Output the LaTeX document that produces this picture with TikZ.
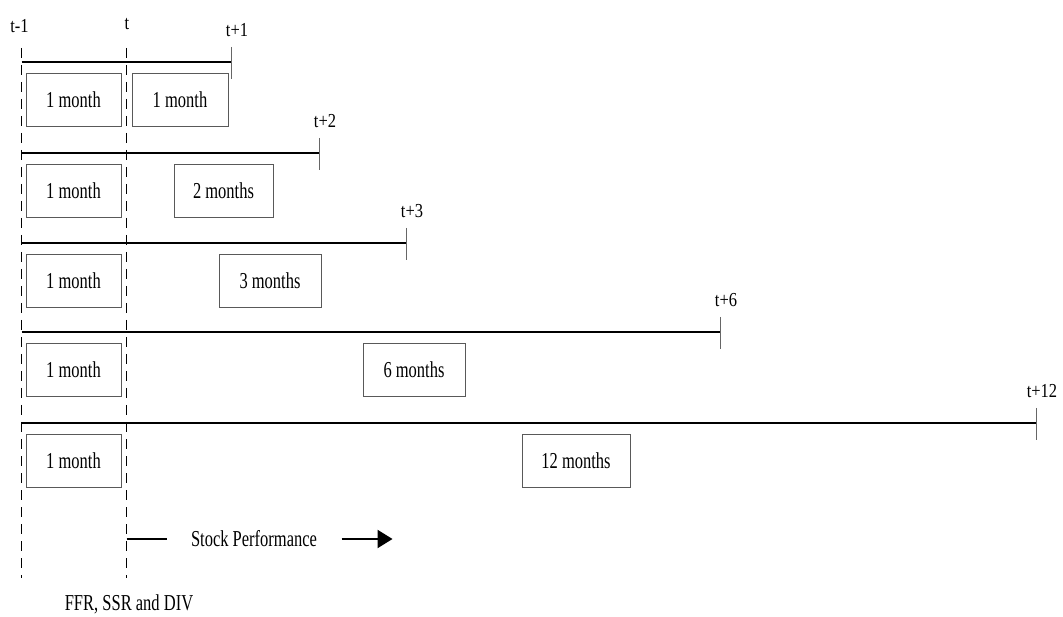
\documentclass[tikz,border=0pt]{standalone}
\usepackage{fontspec}
\setmainfont{Liberation Serif}
\usepackage{graphicx}
\usetikzlibrary{arrows.meta,positioning,calc}
\newcommand{\tall}[1]{\scalebox{1}[1.38]{#1}}
\newcommand{\semitall}[1]{\scalebox{1}[1.2]{#1}}
\tikzset{
  span/.style={line width=2pt},
  tick/.style={draw=black!60, line width=0.9pt},
  guide/.style={dash pattern=on 10pt off 7pt, line width=1.9pt},
  box/.style={draw=black!65, line width=0.9pt, minimum height=53pt, inner sep=0pt},
  lbl/.style={inner sep=0pt},
  arrow/.style={-{Triangle[length=15pt, width=18pt]}, line width=2pt},
}

\begin{document}
\begin{tikzpicture}[x=1pt, y=-1pt, every node/.style={font=\fontsize{16.5}{18}\selectfont}]
      \useasboundingbox (0,0) rectangle (1063,617);
      \coordinate (prevtop) at (21.5,48);
      \coordinate (prevbot) at (21.5,578);
      \coordinate (nowtop) at (126.5,48);
      \coordinate (nowbot) at (126.5,578);
      \draw[guide] (prevtop) -- (prevbot);
      \draw[guide] (nowtop) -- (nowbot);
      \node[lbl] (prev) at (19.5,26) {\semitall{t-1}};
      \node[lbl] (now) at (127,24) {\semitall{t}};

      % one row per horizon
      \foreach \i/\y/\x/\lab/\cx/\w/\txt in {1/62/231/t+1/180/96/1 month,
          2/153/319/t+2/223.5/99/2 months, 3/243/406/t+3/270/102/3 months,
          4/332/720/t+6/414/102/6 months, 5/423/1036/t+12/576/108/12 months}{
        \coordinate (s\i) at (21.5,\y);
        \coordinate (e\i) at (\x,\y);
        \draw[span] (s\i) -- (e\i);
        \draw[tick] ($(e\i)+(0,-15)$) -- ($(e\i)+(0,17)$);
        \node[lbl] (h\i) at ($(e\i)+(6,-32)$) {\semitall{\lab}};
        \node[box, minimum width=95pt] (m\i) at (73.5,\y+38) {\tall{1 month}};
        \node[box, minimum width=\w pt] (p\i) at (\cx,\y+38) {\tall{\txt}};
      }

      \coordinate (sp) at (126.5,539);
      \node (perf) at (254,539) {\tall{Stock Performance}};
      \draw[span] (sp) -- ($(perf.west)+(-20,0)$);
      \draw[arrow] ($(perf.east)+(21,0)$) -- ++(51,0);
      \node (ffr) at (129,604) {\tall{FFR, SSR and DIV}};
    \end{tikzpicture}
\end{document}
